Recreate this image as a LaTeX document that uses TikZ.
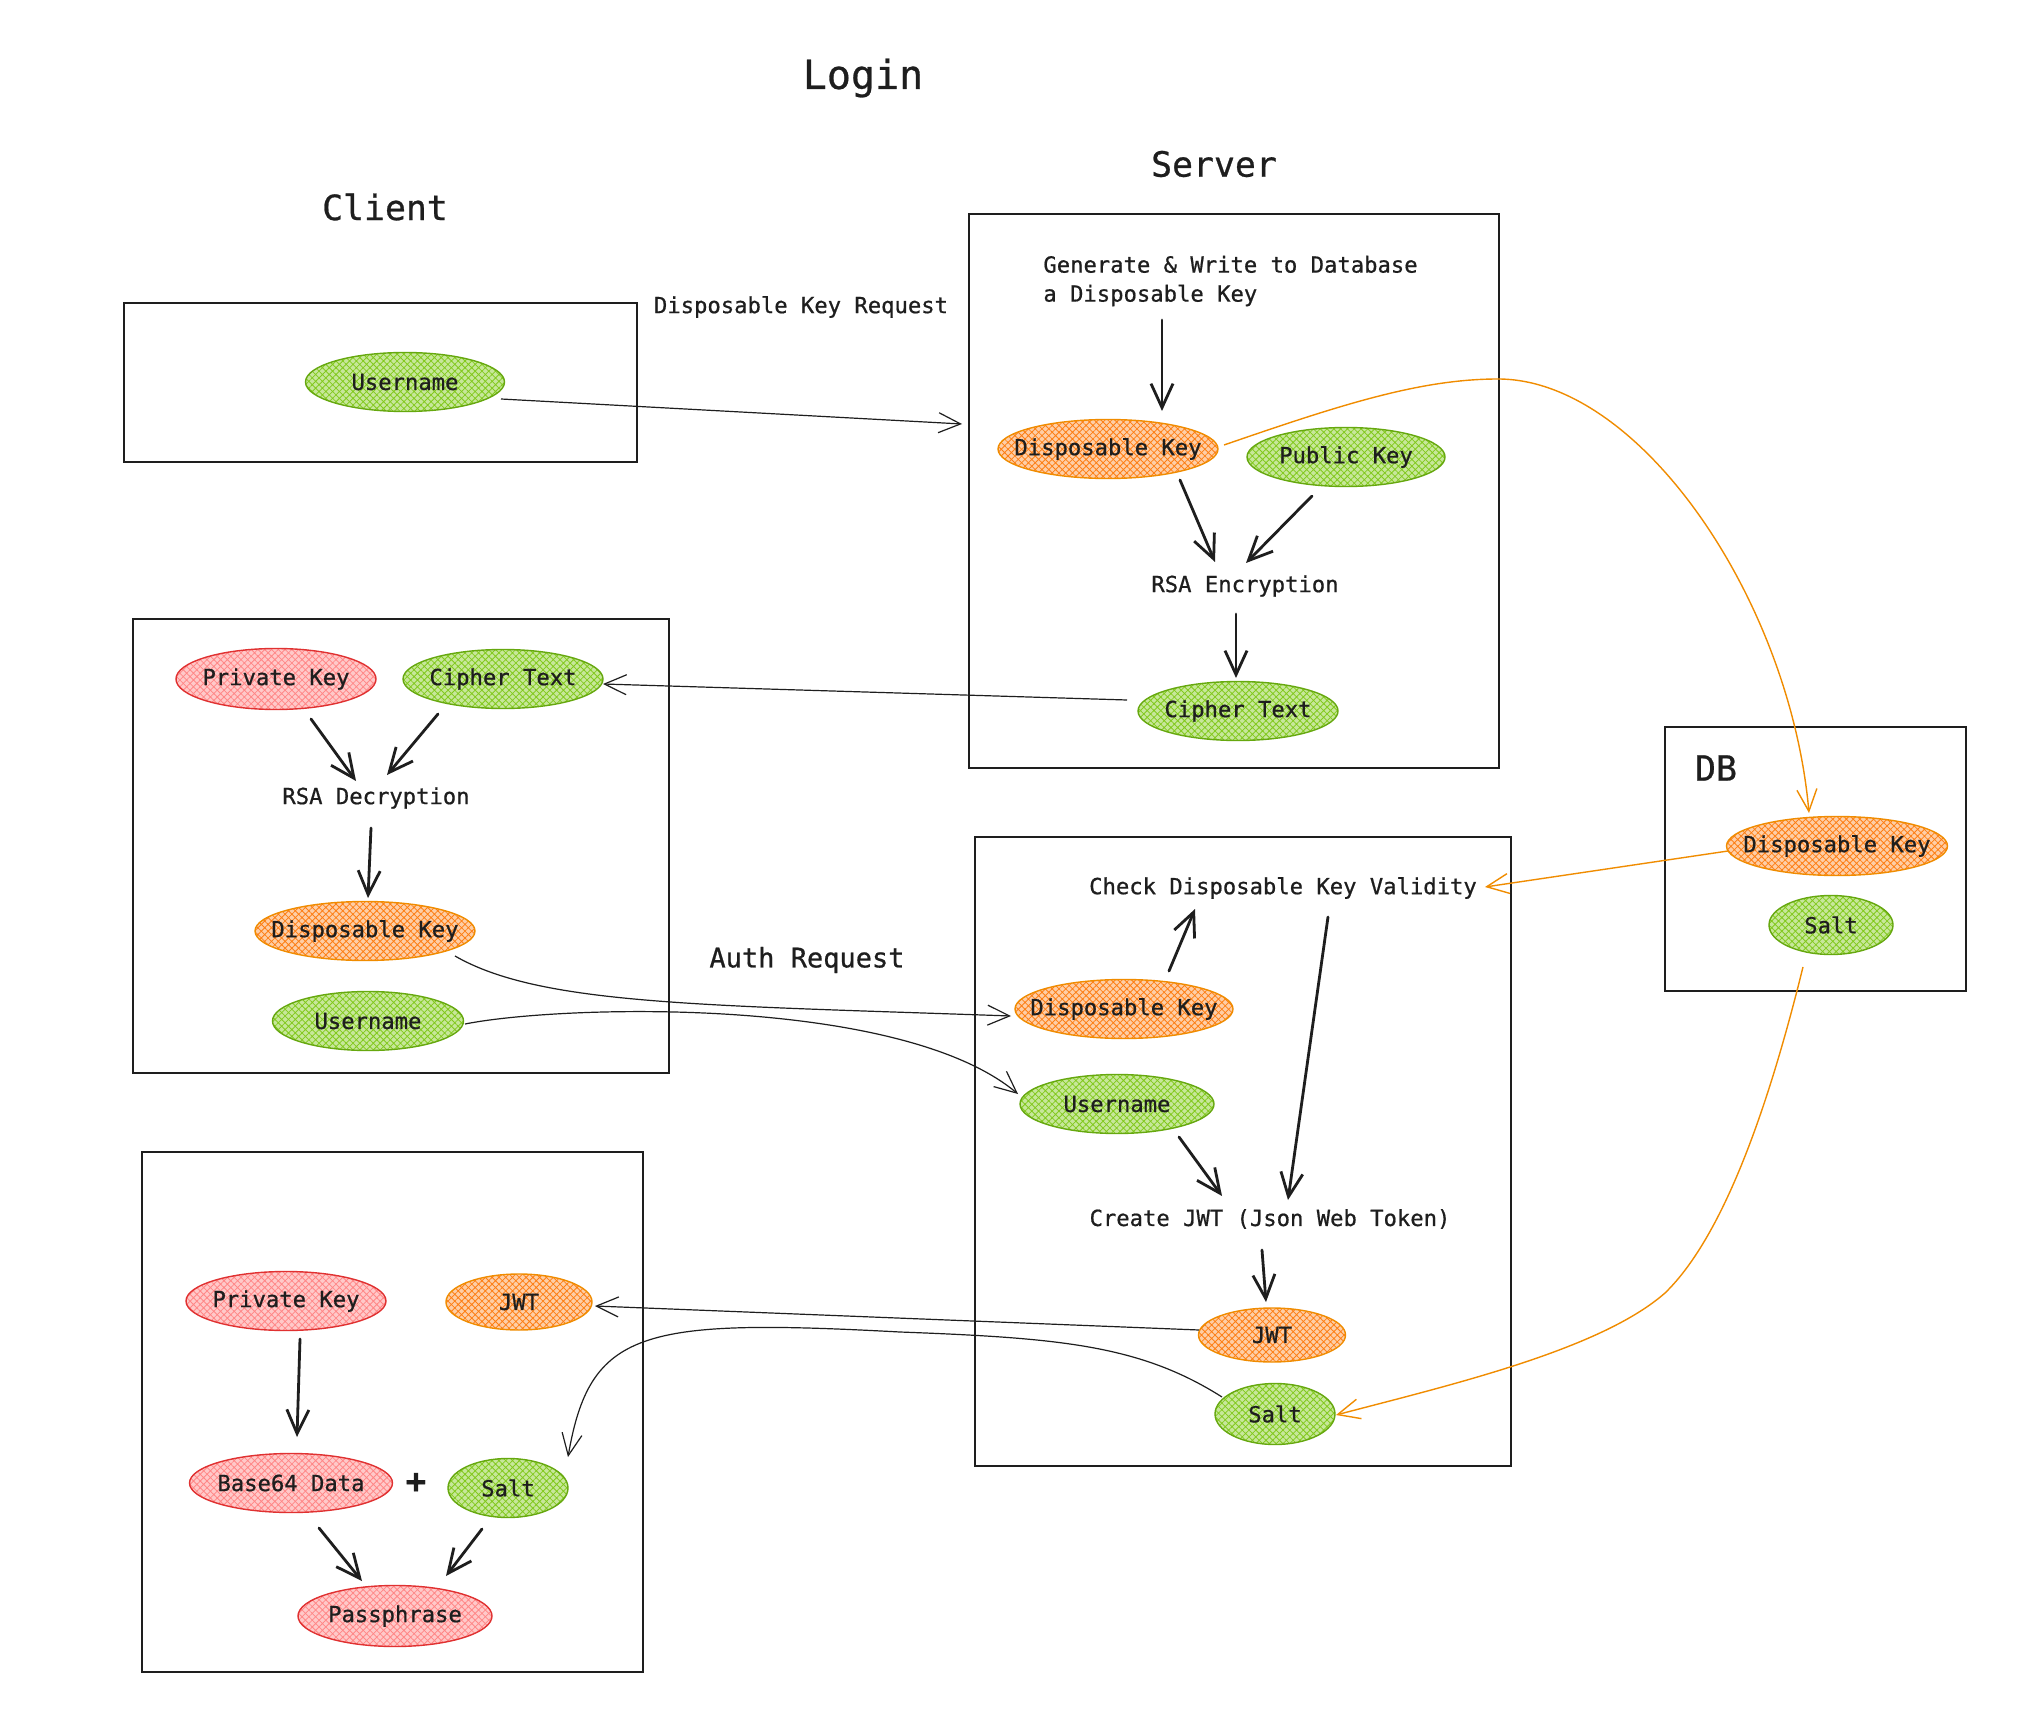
\documentclass[tikz,border=0pt]{standalone}
\usepackage{fontspec}
\setmonofont{DejaVu Sans Mono}[FakeBold=0.7]
\usetikzlibrary{shapes.geometric,arrows.meta,patterns.meta}
\definecolor{gS}{HTML}{66A80F}
\definecolor{gF}{HTML}{82C91E}
\definecolor{oS}{HTML}{F08C00}
\definecolor{oF}{HTML}{FD7E14}
\definecolor{rS}{HTML}{E03131}
\definecolor{rF}{HTML}{FF8787}
\definecolor{ink}{HTML}{1E1E1E}
\newcommand{\zw}[1]{\makebox[0pt][c]{#1}}
\tikzset{
  every node/.style={font=\ttfamily\fontsize{11.1}{14.5}\selectfont, text=ink},
  lbl/.style={inner sep=0pt},
  box/.style={draw=ink, line width=0.8pt, inner sep=0pt},
  blob/.style={ellipse, inner sep=0pt, minimum height=29.5pt, line width=0.7pt},
  gblob/.style={blob, draw=gS, preaction={fill=gF!45}, pattern={Hatch[angle=45,distance=2.4pt,line width=0.4pt]}, pattern color=gF},
  oblob/.style={blob, draw=oS, preaction={fill=oF!38}, pattern={Hatch[angle=45,distance=2.4pt,line width=0.4pt]}, pattern color=oF},
  rblob/.style={blob, draw=rS, preaction={fill=rF!45}, pattern={Hatch[angle=45,distance=2.4pt,line width=0.4pt]}, pattern color=rF},
  tarr/.style={draw=ink, line width=1.4pt, line cap=round, -{Straight Barb[length=12pt,width=11pt]}},
  narr/.style={draw=ink, line width=0.6pt, -{Straight Barb[length=11pt,width=10pt]}},
  oarr/.style={draw=oS, line width=0.7pt, -{Straight Barb[length=11pt,width=10pt]}},
}
\begin{document}
\begin{tikzpicture}[x=0.5pt,y=-0.5pt]
\useasboundingbox (0,0) rectangle (2025,1722);
\fill[white] (0,0) rectangle (2025,1722);

% boxes
\node[box, minimum width=256.5pt, minimum height=79.5pt] (bC1) at (380.5,382.5) {};
\node[box, minimum width=268pt, minimum height=227pt] (bC2) at (401,846) {};
\node[box, minimum width=250.5pt, minimum height=260pt] (bC3) at (392.5,1412) {};
\node[box, minimum width=265pt, minimum height=277pt] (bS1) at (1234,491) {};
\node[box, minimum width=268pt, minimum height=314.5pt] (bS2) at (1243,1151.5) {};
\node[box, minimum width=150.5pt, minimum height=132pt] (bDB) at (1815.5,859) {};

% titles and labels
\node[lbl, font=\ttfamily\fontsize{20}{24}\selectfont] (tLogin) at (863,78) {Login};
\node[lbl, font=\ttfamily\fontsize{17.4}{21}\selectfont] (tClient) at (385,207) {Client};
\node[lbl, font=\ttfamily\fontsize{17.4}{21}\selectfont] (tServer) at (1214,164) {Server};
\node[lbl, font=\ttfamily\fontsize{17.4}{21}\selectfont] (tDB) at (1716,768) {DB};
\node[lbl] (tReq) at (801,307) {Disposable Key Request};
\node[lbl, font=\ttfamily\fontsize{13.5}{16}\selectfont] (tAuth) at (807,960) {Auth Request};
\node[lbl, anchor=west, align=left] (tGen) at (1043,281) {Generate \& Write to Database\\a Disposable Key};
\node[lbl] (rsaE) at (1245,586) {RSA Encryption};
\node[lbl] (rsaD) at (376,798) {RSA Decryption};
\node[lbl] (chk) at (1283,888) {Check Disposable Key Validity};
\node[lbl] (cjwt) at (1270,1219) {Create JWT (Json Web Token)};
\node[lbl, font=\ttfamily\fontsize{17}{20}\selectfont\bfseries] (plus) at (416,1483) {+};

% client ellipses
\node[gblob, minimum width=99.5pt] (cU1) at (405,382) {\zw{Username}};
\node[rblob, minimum width=100pt, minimum height=30.5pt] (cPK) at (276,679) {\zw{Private Key}};
\node[gblob, minimum width=100pt] (cCT) at (503,679) {\zw{Cipher Text}};
\node[oblob, minimum width=110pt] (cDK) at (365,931) {\zw{Disposable Key}};
\node[gblob, minimum width=95.5pt] (cU2) at (368,1021) {\zw{Username}};
\node[rblob, minimum width=100pt] (cPK3) at (286,1301) {\zw{Private Key}};
\node[oblob, minimum width=73pt, minimum height=28pt] (cJWT) at (519,1302) {\zw{JWT}};
\node[rblob, minimum width=101.5pt] (cB64) at (291,1483) {\zw{Base64 Data}};
\node[gblob, minimum width=60pt] (cSalt) at (508,1488) {\zw{Salt}};
\node[rblob, minimum width=97pt, minimum height=30.5pt] (cPP) at (395,1616) {\zw{Passphrase}};

% server ellipses
\node[oblob, minimum width=110pt] (sDK) at (1108,449) {\zw{Disposable Key}};
\node[gblob, minimum width=99pt] (sPub) at (1346,457) {\zw{Public Key}};
\node[gblob, minimum width=100pt] (sCT) at (1238,711) {\zw{Cipher Text}};
\node[oblob, minimum width=109pt] (sDK2) at (1124,1009) {\zw{Disposable Key}};
\node[gblob, minimum width=97pt] (sU) at (1117,1104) {\zw{Username}};
\node[oblob, minimum width=73.5pt, minimum height=27pt] (sJWT) at (1272,1335) {\zw{JWT}};
\node[gblob, minimum width=60pt, minimum height=30.5pt] (sSalt) at (1275,1414) {\zw{Salt}};

% db ellipses
\node[oblob, minimum width=110.5pt] (dDK) at (1837,846) {\zw{Disposable Key}};
\node[gblob, minimum width=62pt] (dSalt) at (1831,925) {\zw{Salt}};

% thick arrows
\draw[tarr] ([shift={(119,39)}]tGen.west) -- ([shift={(54,-38)}]sDK.center);
\draw[tarr] ([shift={(72,31)}]sDK.center) -- ([shift={(-30,-24)}]rsaE.center);
\draw[tarr] ([shift={(-34,39)}]sPub.center) -- ([shift={(1,-23)}]rsaE.center);
\draw[tarr] ([shift={(-9,28)}]rsaE.center) -- ([shift={(-2,-33)}]sCT.center);
\draw[tarr] ([shift={(35,40)}]cPK.center) -- ([shift={(-20,-17)}]rsaD.center);
\draw[tarr] ([shift={(-65,35)}]cCT.center) -- ([shift={(11,-23)}]rsaD.center);
\draw[tarr] ([shift={(-5,30)}]rsaD.center) -- ([shift={(3,-33)}]cDK.center);
\draw[tarr] ([shift={(45,-38)}]sDK2.center) -- ([shift={(-88,21)}]chk.center);
\draw[tarr] ([shift={(45,29)}]chk.center) -- ([shift={(18,-19)}]cjwt.center);
\draw[tarr] ([shift={(62,33)}]sU.center) -- ([shift={(-48,-23)}]cjwt.center);
\draw[tarr] ([shift={(-8,31)}]cjwt.center) -- ([shift={(-6,-33)}]sJWT.center);
\draw[tarr] ([shift={(14,38)}]cPK3.center) -- ([shift={(6,-46)}]cB64.center);
\draw[tarr] ([shift={(28,45)}]cB64.center) -- ([shift={(-33,-35)}]cPP.center);
\draw[tarr] ([shift={(-26,41)}]cSalt.center) -- ([shift={(51,-40)}]cPP.center);

% thin black connectors
\draw[narr] ([shift={(96,17)}]cU1.center) -- ([shift={(-272,-67)}]bS1.center);
\draw[narr] ([shift={(-111,-11)}]sCT.center) -- ([shift={(100,5)}]cCT.center);
\draw[narr] ([shift={(90,25)}]cDK.center) .. controls (540,1005) and (700,1005) .. ([shift={(-113,7)}]sDK2.center);
\draw[narr] ([shift={(97,3)}]cU2.center) .. controls (560,1005) and (900,995) .. ([shift={(-99,-10)}]sU.center);
\draw[narr] ([shift={(-73,-5)}]sJWT.center) -- ([shift={(76,4)}]cJWT.center);
\draw[narr] ([shift={(-53,-17)}]sSalt.center) .. controls (1140,1345) and (1060,1338) .. (900,1332) .. controls (640,1318) and (590,1330) .. ([shift={(60,-31)}]cSalt.center);

% orange connectors
\draw[oarr] ([shift={(116,-4)}]sDK.center) .. controls (1340,405) and (1420,379) .. (1498,379) .. controls (1640,379) and (1790,600) .. ([shift={(-28,-33)}]dDK.center);
\draw[oarr] ([shift={(-109,5)}]dDK.center) -- ([shift={(202,-1)}]chk.center);
\draw[oarr] ([shift={(-28,42)}]dSalt.center) .. controls (1775,1080) and (1730,1230) .. (1665,1293) .. controls (1600,1350) and (1450,1385) .. ([shift={(61,1)}]sSalt.center);
\end{tikzpicture}
\end{document}
